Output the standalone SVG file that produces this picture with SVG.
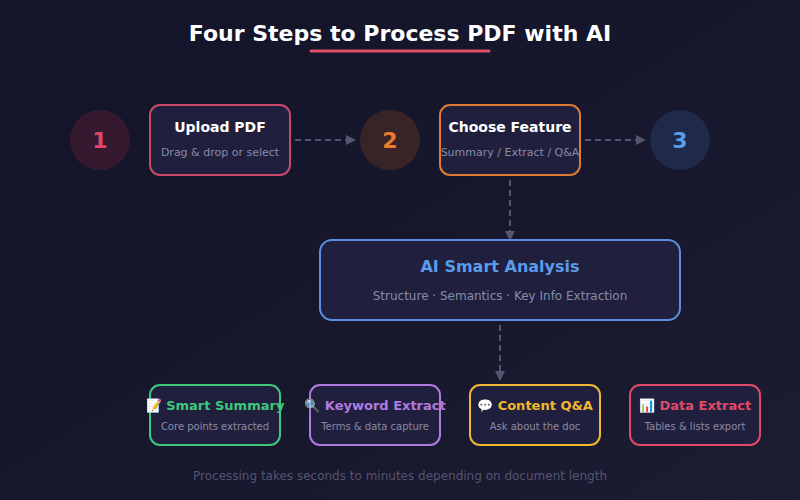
<svg xmlns="http://www.w3.org/2000/svg" width="800" height="500" viewBox="0 0 800 500">
<defs>
<linearGradient id="bg" x1="0" y1="0" x2="1" y2="1">
<stop offset="0" stop-color="#14142a"/>
<stop offset="0.5" stop-color="#16162c"/>
<stop offset="1" stop-color="#1c1c32"/>
</linearGradient>
<marker id="arr" viewBox="0 0 10 10" refX="9" refY="5" markerWidth="10" markerHeight="10" markerUnits="userSpaceOnUse" orient="auto">
<path d="M0,0 L10,5 L0,10 Z" fill="#55556f"/>
</marker>
<style>
text{font-family:"DejaVu Sans","Liberation Sans",sans-serif;text-anchor:middle}
.box{fill:#20203e;stroke-width:2}
.h{font-weight:bold;font-size:14px;fill:#ffffff}
.s{font-size:11px;fill:#8a8aa6}
.num{font-weight:bold;font-size:22px}
.bh{font-weight:bold;font-size:13px}
.bs{font-size:10px;fill:#8a8aa6}
.conn{fill:none;stroke:#55556f;stroke-width:2;stroke-dasharray:6 4}
</style>
</defs>
<rect width="800" height="500" fill="url(#bg)"/>
<text x="400" y="41" style="font-weight:bold;font-size:22px;fill:#ffffff">Four Steps to Process PDF with AI</text>
<line x1="311" y1="51" x2="489" y2="51" stroke="#e0506a" stroke-width="3" stroke-linecap="round"/>
<g id="connectors">
<line class="conn" x1="295" y1="140" x2="355" y2="140" marker-end="url(#arr)"/>
<line class="conn" x1="585" y1="140" x2="645" y2="140" marker-end="url(#arr)"/>
<line class="conn" x1="510" y1="180" x2="510" y2="240" marker-end="url(#arr)"/>
<line class="conn" x1="500" y1="325" x2="500" y2="380" marker-end="url(#arr)"/>
</g>
<g id="step1">
<circle cx="100" cy="140" r="30" fill="#35192e"/>
<text class="num" x="100" y="148" fill="#e0466a">1</text>
</g>
<g id="upload">
<rect class="box" x="150" y="105" width="140" height="70" rx="10" stroke="#c94a68"/>
<text class="h" x="220" y="132">Upload PDF</text>
<text class="s" x="220" y="156">Drag &amp; drop or select</text>
</g>
<g id="step2">
<circle cx="390" cy="140" r="30" fill="#382427"/>
<text class="num" x="390" y="148" fill="#f07a28">2</text>
</g>
<g id="choose">
<rect class="box" x="440" y="105" width="140" height="70" rx="10" stroke="#e07a30"/>
<text class="h" x="510" y="132">Choose Feature</text>
<text class="s" x="510" y="156">Summary / Extract / Q&amp;A</text>
</g>
<g id="step3">
<circle cx="680" cy="140" r="30" fill="#1e2a48"/>
<text class="num" x="680" y="148" fill="#5a9cec">3</text>
</g>
<g id="analysis">
<rect class="box" x="320" y="240" width="360" height="80" rx="12" stroke="#5a8ee0" fill="#1e2246"/>
<text x="500" y="272" style="font-weight:bold;font-size:16px;fill:#5a9cec">AI Smart Analysis</text>
<text x="500" y="300" style="font-size:12px;fill:#8a8aa6">Structure · Semantics · Key Info Extraction</text>
</g>
<g id="summary">
<rect class="box" x="150" y="385" width="130" height="60" rx="10" stroke="#3ec87a"/>
<text class="bh" x="215" y="410" fill="#3ec87a">📝 Smart Summary</text>
<text class="bs" x="215" y="430">Core points extracted</text>
</g>
<g id="keyword">
<rect class="box" x="310" y="385" width="130" height="60" rx="10" stroke="#b07ae0"/>
<text class="bh" x="375" y="410" fill="#b07ae0">🔍 Keyword Extract</text>
<text class="bs" x="375" y="430">Terms &amp; data capture</text>
</g>
<g id="qa">
<rect class="box" x="470" y="385" width="130" height="60" rx="10" stroke="#f0b830"/>
<text class="bh" x="535" y="410" fill="#f0b830">💬 Content Q&amp;A</text>
<text class="bs" x="535" y="430">Ask about the doc</text>
</g>
<g id="data">
<rect class="box" x="630" y="385" width="130" height="60" rx="10" stroke="#e04a6a"/>
<text class="bh" x="695" y="410" fill="#e04a6a">📊 Data Extract</text>
<text class="bs" x="695" y="430">Tables &amp; lists export</text>
</g>
<text x="400" y="480" style="font-size:12px;fill:#55556e">Processing takes seconds to minutes depending on document length</text>
</svg>
